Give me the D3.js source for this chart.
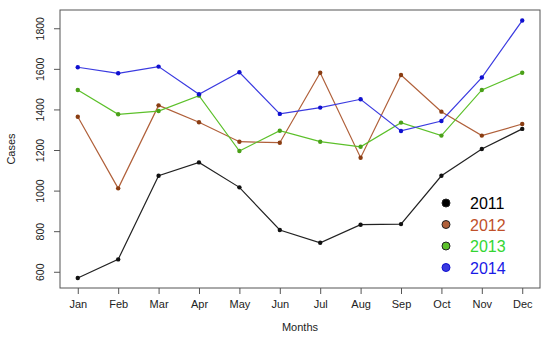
<!DOCTYPE html>
<html>
<head>
<meta charset="utf-8">
<script src="https://cdn.jsdelivr.net/npm/d3@7"></script>
<style>
  body { margin: 0; background: #fff; }
  text { font-family: "Liberation Sans", Arial, sans-serif; }
</style>
</head>
<body>
<div id="chart"></div>
<script>
var months = ["Jan","Feb","Mar","Apr","May","Jun","Jul","Aug","Sep","Oct","Nov","Dec"];
var years = ["2011","2012","2013","2014"];
var cases2011 = [569, 661, 1073, 1139, 1016, 806, 743, 832, 835, 1073, 1205, 1304];
var cases2012 = [1364, 1011, 1420, 1337, 1241, 1236, 1581, 1162, 1570, 1389, 1271, 1328];
var cases2013 = [1496, 1376, 1392, 1468, 1195, 1295, 1241, 1216, 1335, 1271, 1496, 1581];
var cases2014 = [1608, 1578, 1611, 1475, 1583, 1378, 1409, 1450, 1294, 1343, 1557, 1838];
var yTicks = [600, 800, 1000, 1200, 1400, 1600, 1800];

var lineColors = ["#222222", "#b0603a", "#5cc02a", "#3a3ae0"];
var dotColors = ["#111111", "#8a3d12", "#4aa018", "#1010d0"];
var textColors = ["#000000", "#c0502a", "#33d633", "#1a1ae6"];
var allSeries = [cases2011, cases2012, cases2013, cases2014];

var W = 550, H = 338;
var pLeft = 60, pRight = 540, pTop = 10, pBottom = 288;

var svg = d3.select("#chart").append("svg")
  .attr("width", W).attr("height", H);

// R style 4% padding on both axes
var x = d3.scaleLinear().domain([1 - 0.44, 12 + 0.44]).range([pLeft, pRight]);
var y = d3.scaleLinear().domain([520, 1890]).range([pBottom, pTop]);

// frame
svg.append("rect")
  .attr("x", pLeft).attr("y", pTop)
  .attr("width", pRight - pLeft).attr("height", pBottom - pTop)
  .attr("fill", "none").attr("stroke", "#555").attr("stroke-width", 1);

// x axis
var xAxis = svg.append("g")
  .attr("transform", "translate(0," + pBottom + ")")
  .call(d3.axisBottom(x)
    .tickValues(d3.range(1, 13))
    .tickFormat(function(d) { return months[d - 1]; })
    .tickSize(6).tickPadding(6));
xAxis.select(".domain").remove();
xAxis.selectAll("line").attr("stroke", "#555");
xAxis.selectAll("text").style("font-size", "11px").attr("fill", "#222");

// y axis
var yAxis = svg.append("g")
  .attr("transform", "translate(" + pLeft + ",0)")
  .call(d3.axisLeft(y).tickValues(yTicks).tickFormat(d3.format("d"))
    .tickSize(6).tickPadding(0));
yAxis.select(".domain").remove();
yAxis.selectAll("line").attr("stroke", "#555");
yAxis.selectAll("text")
  .style("font-size", "10.5px").attr("fill", "#222")
  .attr("text-anchor", "middle")
  .attr("x", 0).attr("dy", 0)
  .attr("transform", "translate(-16,0) rotate(-90)");

// axis titles
svg.append("text")
  .attr("x", (pLeft + pRight) / 2).attr("y", 331)
  .attr("text-anchor", "middle")
  .style("font-size", "11px").attr("fill", "#222")
  .text("Months");

svg.append("text")
  .attr("text-anchor", "middle")
  .attr("transform", "translate(15," + ((pTop + pBottom) / 2) + ") rotate(-90)")
  .style("font-size", "11px").attr("fill", "#222")
  .text("Cases");

var line = d3.line()
  .x(function(d, i) { return x(i + 1); })
  .y(function(d) { return y(d); });

allSeries.forEach(function(vals, k) {
  svg.append("path")
    .datum(vals)
    .attr("d", line)
    .attr("fill", "none")
    .attr("stroke", lineColors[k])
    .attr("stroke-width", 1.2);

  svg.append("g").selectAll("circle")
    .data(vals)
    .enter()
    .append("circle")
      .attr("cx", function(d, i) { return x(i + 1); })
      .attr("cy", function(d) { return y(d); })
      .attr("r", 2.2)
      .attr("fill", dotColors[k]);
});

// legend
var legend = svg.append("g");
years.forEach(function(yr, k) {
  var ly = 203 + k * 21.5;
  legend.append("circle")
    .attr("cx", 446).attr("cy", ly).attr("r", 4)
    .attr("fill", k === 0 ? "#000" : lineColors[k])
    .attr("stroke", k === 3 ? "#1010d0" : "#222")
    .attr("stroke-width", 1);
  legend.append("text")
    .attr("x", 470).attr("y", ly + 6)
    .style("font-size", "16px")
    .attr("fill", textColors[k])
    .text(yr);
});
</script>
</body>
</html>
